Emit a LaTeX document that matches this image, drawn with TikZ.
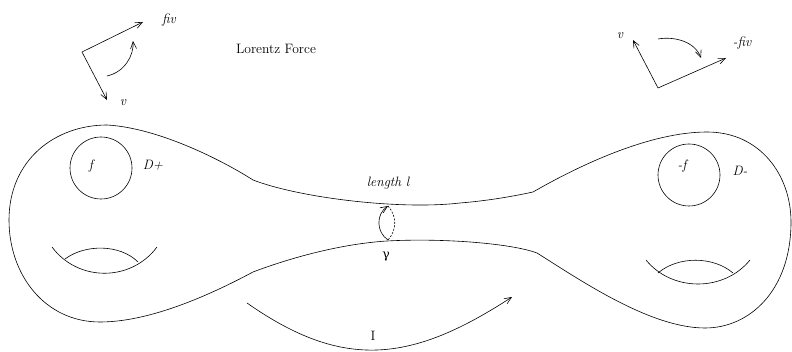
\documentclass[tikz,border=0pt]{standalone}
\usepackage{fontspec}
\newfontfamily\greekfont{DejaVu Serif}
\usetikzlibrary{arrows.meta}
\begin{document}
\begin{tikzpicture}[
      x=1pt, y=-1pt,
      line width=0.6pt,
      font=\fontsize{13.6}{16}\selectfont,
      vec/.style={
        -{Straight Barb[length=7pt,width=6pt]}
      },
      lbl/.style={
        inner sep=0pt, font=\fontsize{13.6}{16}\selectfont\itshape
      },
      txt/.style={
        inner sep=0pt
      },
      disk/.style={
        draw, circle, minimum size=62pt, inner sep=0pt
      }
    ]
    \useasboundingbox (0,0) rectangle (792,352);

    \draw[line join=round] (107,125)
      .. controls (160,128) and (225,162) .. (253,180)
      .. controls (300,198) and (400,210) .. (460,203)
      .. controls (485,201) and (510,197) .. (533,192)
      .. controls (580,165) and (650,132) .. (707,132)
      .. controls (760,132) and (791,175) .. (791,222)
      .. controls (791,290) and (750,328) .. (705,328)
      .. controls (650,328) and (580,280) .. (537,253)
      .. controls (510,243) and (440,238) .. (387,241)
      .. controls (340,244) and (290,258) .. (253,272)
      .. controls (210,295) and (150,322) .. (100,322)
      .. controls (45,322) and (9,275) .. (9,220)
      .. controls (9,160) and (55,125) .. (107,125) -- cycle;

    \node[disk] (dplus) at (101,168) {};
    \node[lbl] (fplus) at (91,166) {f};
    \node[lbl] (nplus) at (153,165) {D+};
    \node[disk] (dminus) at (689,175) {};
    \node[lbl] (fminus) at (682,166) {-f};
    \node[lbl] (nminus) at (740,171) {D-};

    \draw (52,247) .. controls (78,282) and (131,282) .. (157,247);
    \draw (65,259) .. controls (85,244) and (120,244) .. (138,262);
    \draw (646,260) .. controls (672,292) and (724,292) .. (750,260);
    \draw (658,273) .. controls (678,256) and (713,256) .. (733,273);

    \coordinate (gtop) at (388,206);
    \coordinate (gbot) at (388,240);
    \draw[vec] (gbot) .. controls (376,232) and (376,214) .. (gtop);
    \draw[dashed, dash pattern=on 2pt off 1.5pt] (gtop) .. controls (397,216) and (397,230) .. (gbot);
    \node[txt] (gamma) at (386,257) {\greekfont\fontsize{12.5}{15}\selectfont γ};
    \node[lbl] (len) at (388,183) {length l};

    \node[txt] (title) at (276,49) {Lorentz Force};

    \coordinate (lcorner) at (82,52);
    \coordinate (lforce) at (143,22);
    \coordinate (lvel) at (107,100);
    \draw[vec] (lcorner) -- (lforce);
    \draw[vec] (lcorner) -- (lvel);
    \draw[vec] (107,76) .. controls (125,72) and (134,55) .. (133,41);
    \node[lbl] (lfiv) at (169,20) {fiv};
    \node[lbl] (lv) at (123,103) {v};

    \coordinate (rcorner) at (658,88);
    \coordinate (rvel) at (633,40);
    \coordinate (rforce) at (726,58);
    \draw[vec] (rcorner) -- (rvel);
    \draw[vec] (rcorner) -- (rforce);
    \draw[vec] (658,39) .. controls (675,36) and (695,42) .. (701,58);
    \node[lbl] (rv) at (620,36) {v};
    \node[lbl] (rfiv) at (742,43) {-fiv};

    \coordinate (istart) at (247,303);
    \coordinate (iend) at (512,297);
    \draw[vec] (istart) .. controls (344,371) and (412,362) .. (iend);
    \node[txt] (cur) at (373,336) {I};
  \end{tikzpicture}
\end{document}
